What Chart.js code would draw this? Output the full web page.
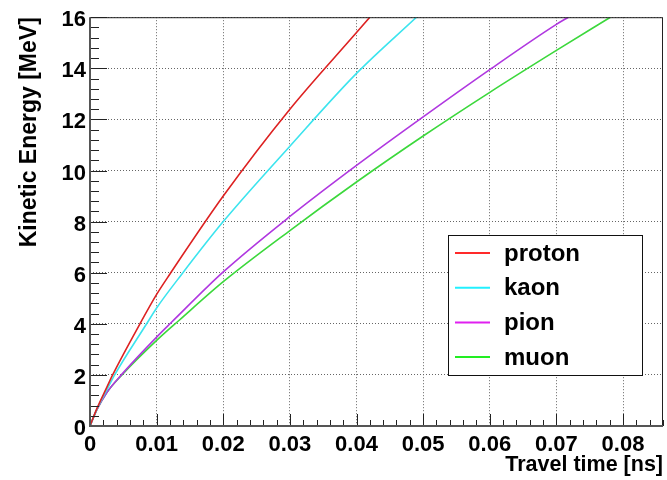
<!DOCTYPE html>
<html>
<head>
<meta charset="utf-8">
<script src="https://cdn.jsdelivr.net/npm/chart.js@4.4.0/dist/chart.umd.min.js"></script>
<style>
  html, body { margin: 0; padding: 0; background: #fff; }
  #wrap { width: 667px; height: 480px; }
</style>
</head>
<body>
<div id="wrap"><canvas id="keChart"></canvas></div>
<script>
// tick labels
const X_TICKS = [0, 0.01, 0.02, 0.03, 0.04, 0.05, 0.06, 0.07, 0.08];
const X_LABELS = ["0", "0.01", "0.02", "0.03", "0.04", "0.05", "0.06", "0.07", "0.08"];
const Y_TICKS = [0, 2, 4, 6, 8, 10, 12, 14, 16];
const Y_LABELS = ["0", "2", "4", "6", "8", "10", "12", "14", "16"];

// travel time [ns] / kinetic energy [MeV]
const protonTime = [0, 0.001, 0.0025, 0.0034, 0.0075, 0.01, 0.012, 0.02, 0.03, 0.04, 0.042];
const protonKE = [0, 0.66, 1.5, 2, 4, 5.15, 5.95, 9.0, 12.4, 15.4, 16];
const kaonTime = [0, 0.001, 0.0025, 0.0037, 0.0085, 0.01, 0.0138, 0.02, 0.03, 0.04, 0.049];
const kaonKE = [0, 0.64, 1.4, 2, 4, 4.62, 5.95, 8.0, 10.95, 13.8, 16];
const pionTime = [0, 0.001, 0.0025, 0.0047, 0.01, 0.0122, 0.02, 0.03, 0.04, 0.05, 0.06, 0.07, 0.0718];
const pionKE = [0, 0.62, 1.3, 2, 3.48, 4.05, 6.03, 8.2, 10.2, 12.1, 13.95, 15.72, 16];
const muonTime = [0, 0.001, 0.0025, 0.0048, 0.01, 0.0133, 0.02, 0.03, 0.04, 0.05, 0.06, 0.07, 0.0781];
const muonKE = [0, 0.62, 1.3, 2, 3.35, 4.12, 5.65, 7.65, 9.55, 11.35, 13.06, 14.7, 16];

const SERIES = [
  { label: "proton", t: protonTime, e: protonKE, color: "#dd2222", key: "#ff2a2a" },
  { label: "kaon", t: kaonTime, e: kaonKE, color: "#3ce4ee", key: "#22f0ff" },
  { label: "pion", t: pionTime, e: pionKE, color: "#b038e0", key: "#e020f0" },
  { label: "muon", t: muonTime, e: muonKE, color: "#3cd83c", key: "#22ee22" },
];

const FONT = "'Liberation Sans', Arial, Helvetica, sans-serif";

// ROOT style frame with inward ticks
const frameTicks = {
  id: "frameTicks",
  afterDatasetsDraw(chart) {
    const { ctx, chartArea: a, scales } = chart;
    const x = scales.x, y = scales.y;
    ctx.save();
    ctx.strokeStyle = "#222";
    ctx.lineWidth = 1;
    ctx.beginPath();
    for (let i = 0; i <= 43; i++) {
      const px = Math.round(x.getPixelForValue(i * 0.002)) + 0.5;
      const len = i % 5 === 0 ? 12 : 6;
      ctx.moveTo(px, a.bottom);
      ctx.lineTo(px, a.bottom - len);
    }
    for (let i = 0; i <= 40; i++) {
      const py = Math.round(y.getPixelForValue(i * 0.4)) + 0.5;
      const len = i % 5 === 0 ? 17 : 9;
      ctx.moveTo(a.left, py);
      ctx.lineTo(a.left + len, py);
    }
    ctx.stroke();
    ctx.strokeRect(a.left + 0.5, a.top + 0.5, a.width - 1, a.height - 1);
    ctx.strokeStyle = "#555";
    ctx.lineWidth = 2;
    ctx.beginPath();
    ctx.moveTo(a.left, a.top);
    ctx.lineTo(a.left, a.bottom);
    ctx.lineTo(a.right, a.bottom);
    ctx.stroke();
    ctx.restore();
  },
};

const boxLegend = {
  id: "boxLegend",
  afterDraw(chart) {
    const { ctx } = chart;
    const bx = 448, by = 235, bw = 194, bh = 140;
    ctx.save();
    ctx.fillStyle = "#fff";
    ctx.fillRect(bx, by, bw, bh);
    ctx.strokeStyle = "#111";
    ctx.lineWidth = 1;
    ctx.strokeRect(bx + 0.5, by + 0.5, bw, bh);
    ctx.font = "bold 24px " + FONT;
    ctx.textBaseline = "middle";
    ctx.fillStyle = "#000";
    SERIES.forEach((s, i) => {
      const ly = by + 18 + i * 34.7;
      ctx.strokeStyle = s.key;
      ctx.lineWidth = 2;
      ctx.beginPath();
      ctx.moveTo(455, ly);
      ctx.lineTo(490, ly);
      ctx.stroke();
      ctx.fillText(s.label, 504, ly + 1);
    });
    ctx.restore();
  },
};

new Chart(document.getElementById("keChart"), {
  type: "scatter",
  data: {
    datasets: SERIES.map((s) => ({
      label: s.label,
      data: s.t.map((tv, i) => ({ x: tv, y: s.e[i] })),
      showLine: true,
      borderColor: s.color,
      borderWidth: 1.6,
      pointRadius: 0,
      cubicInterpolationMode: "monotone",
    })),
  },
  options: {
    responsive: true,
    maintainAspectRatio: false,
    animation: false,
    layout: { padding: { top: 13, right: 4, left: 0, bottom: 0 } },
    plugins: { legend: { display: false }, tooltip: { enabled: false } },
    scales: {
      x: {
        type: "linear",
        min: 0,
        max: 0.086,
        afterBuildTicks: (s) => { s.ticks = X_TICKS.map((v) => ({ value: v })); },
        afterFit: (s) => { s.height = 54; },
        grid: { color: "#666", drawTicks: false },
        border: { display: false, dash: [1, 2] },
        ticks: {
          padding: 6,
          color: "#000",
          maxRotation: 0,
          font: { family: FONT, size: 22, weight: "bold" },
          callback: (v, i) => X_LABELS[i],
        },
        title: {
          display: true,
          text: "Travel time [ns]",
          align: "end",
          color: "#000",
          padding: { top: 0, bottom: 2 },
          font: { family: FONT, size: 21.5, weight: "bold" },
        },
      },
      y: {
        type: "linear",
        min: 0,
        max: 16,
        afterBuildTicks: (s) => { s.ticks = Y_TICKS.map((v) => ({ value: v })); },
        afterFit: (s) => { s.width = 90; },
        grid: { color: "#666", drawTicks: false },
        border: { display: false, dash: [1, 2] },
        ticks: {
          padding: 4,
          labelOffset: 3,
          color: "#000",
          font: { family: FONT, size: 22, weight: "bold" },
          callback: (v, i) => Y_LABELS[i],
        },
        title: {
          display: true,
          text: "Kinetic Energy [MeV]",
          align: "end",
          color: "#000",
          padding: { top: 16, bottom: 0 },
          font: { family: FONT, size: 23, weight: "bold" },
        },
      },
    },
  },
  plugins: [frameTicks, boxLegend],
});
</script>
</body>
</html>
